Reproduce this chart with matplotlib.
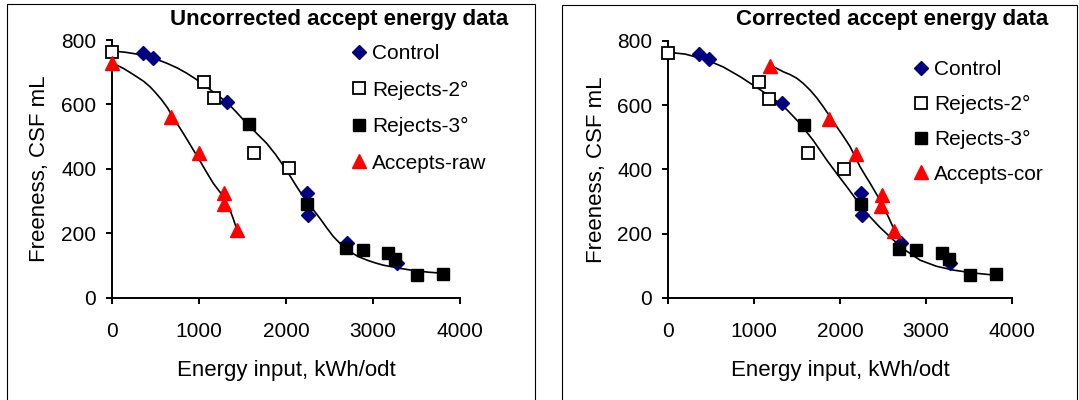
"""
Freeness vs energy input: uncorrected vs corrected accept energy data (two panels).
"""

import matplotlib
matplotlib.use("Agg")
import matplotlib.pyplot as plt
from matplotlib.patches import Rectangle

plt.rcParams["font.family"] = ["Liberation Sans", "DejaVu Sans"]

# --- data ---
control_x = [357, 473, 1318, 2240, 2259, 2708, 3277]
control_y = [761, 743, 607, 326, 257, 169, 109]

rej2_x = [0, 1060, 1176, 1629, 2040]
rej2_y = [762, 671, 619, 450, 402]

rej3_x = [1575, 2240, 2689, 2885, 3181, 3262, 3515, 3810]
rej3_y = [539, 292, 153, 148, 138, 121, 70, 75]

acc_raw_x = [0, 676, 999, 1291, 1283, 1437]
acc_raw_y = [730, 560, 450, 324, 290, 210]

acc_cor_x = [1182, 1872, 2190, 2492, 2477, 2624]
acc_cor_y = [722, 557, 447, 320, 287, 209]

# fitted curves
fit_left_x = [0, 150, 357, 500, 627, 750, 857, 1000, 1088, 1200, 1318, 1430, 1548, 1660, 1779,
              1880, 1970, 2050, 2124, 2190, 2258, 2330, 2393, 2470, 2546, 2640, 2738, 2830,
              2931, 3030, 3122, 3220, 3315, 3410, 3507, 3650, 3810]
fit_left_y = [766, 762, 753, 741, 728, 713, 697, 672, 654, 631, 607, 576, 541, 511, 479,
              445, 410, 377, 345, 318, 293, 268, 246, 217, 190, 164, 143, 128,
              117, 108, 101, 96, 91, 87, 83, 79, 76]

fit_raw_x = [0, 60, 127, 200, 281, 360, 434, 500, 569, 640, 703, 760, 818, 875, 933,
             990, 1048, 1105, 1164, 1220, 1279, 1320, 1356, 1390, 1425]
fit_raw_y = [728, 721, 712, 700, 686, 672, 655, 636, 614, 588, 557, 535, 510, 485, 459,
             434, 407, 381, 355, 335, 314, 292, 272, 248, 220]

fit_right_x = [0, 200, 447, 640, 835, 1030, 1222, 1380, 1533, 1690, 1844, 1960, 2077, 2190,
               2310, 2460, 2619, 2770, 2930, 3120, 3318, 3550, 3810]
fit_right_y = [765, 759, 741, 719, 689, 655, 621, 586, 543, 489, 429, 387, 346, 305,
               263, 220, 180, 146, 117, 98, 86, 77, 70]

fit_cor_x = [1184, 1260, 1339, 1420, 1495, 1570, 1650, 1730, 1804, 1880, 1960, 2040, 2115,
             2175, 2232, 2290, 2348, 2405, 2464, 2515, 2561, 2600, 2639]
fit_cor_y = [725, 715, 704, 695, 684, 668, 647, 622, 595, 565, 533, 502, 471,
             439, 408, 382, 357, 331, 304, 277, 252, 229, 206]

x_ticks = [0, 1000, 2000, 3000, 4000]
y_ticks = [0, 200, 400, 600, 800]

W, H = 1079, 400
fig = plt.figure(figsize=(W / 100, H / 100), dpi=100)

# panel frames
for x0, x1, top in [(7, 535, 4), (562, 1077, 5)]:
    fig.patches.append(Rectangle((x0 / W, -0.05), (x1 - x0) / W, 1.05 - top / H,
                                 transform=fig.transFigure, fill=False,
                                 edgecolor="black", lw=0.8))


def panel(rect, acc_x, acc_y, acc_label, fit_main, fit_acc, title, title_x, leg_xy, spacing):
    ax = fig.add_axes(rect)
    ax.plot(*fit_main, color="black", lw=1.2, zorder=2, clip_on=False)
    ax.plot(*fit_acc, color="black", lw=1.2, zorder=2, clip_on=False)
    ax.plot(control_x, control_y, ls="none", marker="D", ms=7.5, color="#000080",
            label="Control", zorder=3, clip_on=False)
    ax.plot(rej2_x, rej2_y, ls="none", marker="s", ms=8, mfc="white", mec="black",
            mew=1.3, label="Rejects-2°", zorder=3, clip_on=False)
    ax.plot(rej3_x, rej3_y, ls="none", marker="s", ms=8.5, color="black",
            label="Rejects-3°", zorder=3, clip_on=False)
    ax.plot(acc_x, acc_y, ls="none", marker="^", ms=9.5, color="#FF0000",
            label=acc_label, zorder=3, clip_on=False)

    ax.set_xlim(0, 4000)
    ax.set_ylim(0, 800)
    ax.set_xticks(x_ticks)
    ax.set_yticks(y_ticks)
    for s in ["top", "right"]:
        ax.spines[s].set_visible(False)
    for s in ["left", "bottom"]:
        ax.spines[s].set_linewidth(1.4)
    ax.tick_params(direction="out", length=4.5, width=1.4, labelsize=15)
    ax.tick_params(axis="x", pad=13)
    ax.tick_params(axis="y", pad=7)

    ax.set_xlabel("Energy input, kWh/odt", fontsize=16)
    ax.set_ylabel("Freeness, CSF mL", fontsize=16)
    ax.xaxis.set_label_coords(0.5, -0.242)
    ax.yaxis.set_label_coords(-0.178, 0.5)

    fig.text(title_x / W, 1 - 19 / H, title, ha="left", va="center",
             fontsize=16, fontweight="bold")

    ax.legend(loc="upper left", bbox_to_anchor=(leg_xy[0] / W, 1 - leg_xy[1] / H),
              bbox_transform=fig.transFigure, frameon=False, fontsize=15,
              numpoints=1, handlelength=0.7, handletextpad=0.25,
              labelspacing=spacing, borderpad=0, borderaxespad=0)
    return ax


panel([112.3 / W, 1 - 297.7 / H, 347.2 / W, 257.7 / H],
      acc_raw_x, acc_raw_y, "Accepts-raw",
      (fit_left_x, fit_left_y), (fit_raw_x, fit_raw_y),
      "Uncorrected accept energy data", 170, (352, 44), 0.84)

panel([668.3 / W, 1 - 297.7 / H, 343.7 / W, 256.7 / H],
      acc_cor_x, acc_cor_y, "Accepts-cor",
      (fit_right_x, fit_right_y), (fit_cor_x, fit_cor_y),
      "Corrected accept energy data", 736, (914, 60), 0.76)

fig.savefig("out.png", dpi=100)
